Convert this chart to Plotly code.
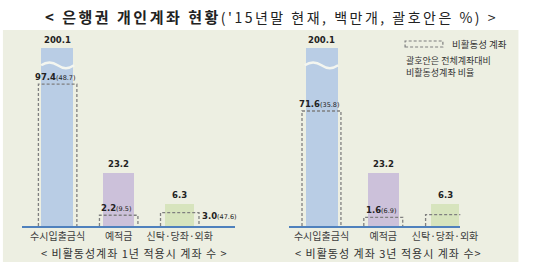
import plotly.graph_objects as go

# ---------------- data ----------------
categories = ["수시입출금식", "예적금", "신탁·당좌·외화"]
total_accounts = [200.1, 23.2, 6.3]          # 백만개
inactive_1yr = [97.4, 2.2, 3.0]              # 비활동성계좌 1년 적용
inactive_1yr_pct = [48.7, 9.5, 47.6]
inactive_3yr = [71.6, 1.6, 2.4]              # 비활동성계좌 3년 적용
inactive_3yr_pct = [35.8, 6.9, 38.1]
bar_colors = ["#B9CDE5", "#CCC1DA", "#D7E4BD"]
panel_titles = ["< 비활동성계좌 1년 적용시 계좌 수 >", "< 비활동성 계좌 3년 적용시 계좌 수>"]
title_main = "< 은행권 개인계좌 현황"
title_note = "('15년말 현재, 백만개, 괄호안은 %) >"
legend_label = "비활동성 계좌"
legend_note = ["괄호안은 전체계좌대비", "비활동성계좌 비율"]

# the reference uses a compressed (non-linear) value scale; the top bar is broken
POW = 0.68
def scale(v):
    return v ** POW

Y_TOP = 28.25
W, H = 550, 265
FONT = "Noto Sans CJK KR"
NUMFONT = "DejaVu Sans"

fig = go.Figure()

xpos = list(range(len(categories)))
panels = [
    dict(xa="x", ya="y", inactive=inactive_1yr, pct=inactive_1yr_pct,
         dom=[23 / W, 243 / W], rng=[-0.579, 2.913]),
    dict(xa="x2", ya="y2", inactive=inactive_3yr, pct=inactive_3yr_pct,
         dom=[298 / W, 475 / W], rng=[-0.529, 2.247]),
]

shapes = []
annotations = []

def ann(**kw):
    kw.setdefault("xanchor", "center")
    kw.setdefault("yanchor", "middle")
    kw.setdefault("showarrow", False)
    annotations.append(kw)

# panel background
shapes.append(dict(type="rect", xref="paper", yref="paper", x0=3 / W, x1=535 / W,
                   y0=1 - 262 / H, y1=1 - 30 / H, fillcolor="#EDEFE2",
                   line=dict(width=0), layer="below"))

ydom = [1 - 226 / H, 1 - 48 / H]
BOX_HALF = 0.315

for p in panels:
    fig.add_trace(go.Bar(
        x=xpos, y=[scale(v) for v in total_accounts],
        width=[0.52, 0.5, 0.46],
        marker=dict(color=bar_colors, line=dict(width=0)),
        xaxis=p["xa"], yaxis=p["ya"], showlegend=False, hoverinfo="skip",
    ))
    # broken-bar wave on the tallest bar
    for i, v in enumerate(total_accounts):
        if scale(v) > Y_TOP:
            yb = 25.5
            shapes.append(dict(
                type="path", xref=p["xa"], yref=p["ya"],
                path=f"M {i-0.27},{yb} Q {i-0.135},{yb+0.9} {i},{yb} T {i+0.27},{yb}",
                line=dict(color="#F4F6F0", width=2.5)))
            ann(x=i, y=Y_TOP, xref=p["xa"], yref=p["ya"], yanchor="bottom",
                yshift=1, text=f"<b>{v}</b>",
                font=dict(family=NUMFONT, size=8.5, color="#222"))
        else:
            ann(x=i, y=scale(v), xref=p["xa"], yref=p["ya"], yanchor="bottom",
                yshift=2, text=f"<b>{v}</b>",
                font=dict(family=NUMFONT, size=8.5, color="#222"))
    # dashed inactive boxes
    for i, (v, pc) in enumerate(zip(p["inactive"], p["pct"])):
        yv = scale(v)
        x0, x1 = i - BOX_HALF, i + BOX_HALF
        shapes.append(dict(
            type="path", xref=p["xa"], yref=p["ya"],
            path=f"M {x0},0 L {x0},{yv} L {x1},{yv} L {x1},0",
            line=dict(color="#7F7F7F", width=1.3, dash="3px,2px")))
        txt = (f"<b>{v}</b><span style='font-size:6.5px;font-weight:normal'>({pc})</span>")
        if i == len(categories) - 1:
            ann(x=x1, y=yv, xref=p["xa"], yref=p["ya"], xanchor="left",
                xshift=1, yshift=-3, text=txt,
                font=dict(family=NUMFONT, size=8.5, color="#222"))
        else:
            ann(x=i - 0.04, y=yv, xref=p["xa"], yref=p["ya"], yanchor="bottom",
                text=txt, font=dict(family=NUMFONT, size=8.5, color="#222"))

axis_common = dict(showgrid=False, zeroline=False, showline=True,
                   linecolor="#4F81BD", linewidth=1.5, ticks="",
                   tickvals=xpos, ticktext=categories,
                   tickfont=dict(family=FONT, size=10, color="#404040"))
yaxis_common = dict(range=[0, Y_TOP], domain=ydom, visible=False)

fig.update_layout(
    width=W, height=H, margin=dict(l=0, r=0, t=0, b=0),
    paper_bgcolor="white", plot_bgcolor="rgba(0,0,0,0)",
    bargap=0, barmode="overlay",
    xaxis=dict(domain=panels[0]["dom"], range=panels[0]["rng"], anchor="y", **axis_common),
    yaxis=dict(anchor="x", **yaxis_common),
    xaxis2=dict(domain=panels[1]["dom"], range=panels[1]["rng"], anchor="y2", **axis_common),
    yaxis2=dict(anchor="x2", **yaxis_common),
)

# panel subtitles
for cx, t in zip([138.5 / W, 401 / W], panel_titles):
    ann(x=cx, y=1 - 253 / H, xref="paper", yref="paper",
        text=f"<span style='letter-spacing:1px'>{t}</span>",
        font=dict(family=FONT, size=11, color="#333"))

# title
ann(x=280 / W, y=1 - 17 / H, xref="paper", yref="paper",
    text=(f"<span style='letter-spacing:2.5px'><b>{title_main}</b></span>"
          f"<span style='font-size:14px;letter-spacing:2.5px'>{title_note}</span>"),
    font=dict(family=FONT, size=15, color="#222"))

# legend
shapes.append(dict(type="rect", xref="paper", yref="paper",
                   x0=418 / W, x1=457 / W, y0=1 - 47 / H, y1=1 - 41 / H,
                   line=dict(color="#7F7F7F", width=1.2, dash="3px,2px")))
ann(x=464 / W, y=1 - 44 / H, xref="paper", yref="paper", xanchor="left",
    text=legend_label, font=dict(family=FONT, size=9.5, color="#333"))
ann(x=417 / W, y=1 - 66.5 / H, xref="paper", yref="paper", xanchor="left",
    align="left", text="<br>".join(legend_note),
    font=dict(family=FONT, size=9, color="#333"))

fig.update_layout(shapes=shapes, annotations=annotations)
fig.write_html("out.html")
